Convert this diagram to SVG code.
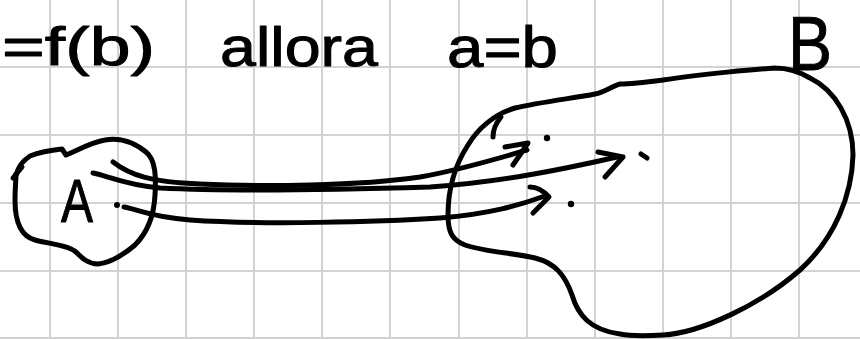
<svg xmlns="http://www.w3.org/2000/svg" width="860" height="339" viewBox="0 0 860 339">
<style>
.grid line{stroke:#d3d3d3;stroke-width:2}
.ink{fill:none;stroke:#000;stroke-width:5;stroke-linecap:round;stroke-linejoin:round}
.dot{fill:#000}
.hw{font-family:"Liberation Sans","DejaVu Sans",sans-serif;fill:#000;stroke:#000;stroke-width:1;stroke-linejoin:round}
</style>
<rect width="860" height="339" fill="#fff"/>
<g class="grid">
<line x1="50" y1="0" x2="50" y2="339"/>
<line x1="118" y1="0" x2="118" y2="339"/>
<line x1="186" y1="0" x2="186" y2="339"/>
<line x1="254" y1="0" x2="254" y2="339"/>
<line x1="322" y1="0" x2="322" y2="339"/>
<line x1="390" y1="0" x2="390" y2="339"/>
<line x1="459" y1="0" x2="459" y2="339"/>
<line x1="527" y1="0" x2="527" y2="339"/>
<line x1="595" y1="0" x2="595" y2="339"/>
<line x1="663" y1="0" x2="663" y2="339"/>
<line x1="731" y1="0" x2="731" y2="339"/>
<line x1="799" y1="0" x2="799" y2="339"/>
<line x1="0" y1="67" x2="860" y2="67"/>
<line x1="0" y1="135" x2="860" y2="135"/>
<line x1="0" y1="203" x2="860" y2="203"/>
<line x1="0" y1="271" x2="860" y2="271"/>
<line x1="0" y1="338" x2="860" y2="338"/>
</g>
<g id="title">
<text class="hw" x="2" y="65" font-size="54" textLength="153" lengthAdjust="spacingAndGlyphs">=f(b)</text>
<text class="hw" x="220" y="66" font-size="56" textLength="158" lengthAdjust="spacingAndGlyphs">allora</text>
<text class="hw" x="447" y="67" font-size="58" textLength="111" lengthAdjust="spacingAndGlyphs">a=b</text>
</g>
<g id="setA">
<path class="ink" d="M16 176 C18 165 24 160 30 156 C40 152 52 150 62 149 L66 155 C78 150 92 142 105 140 C120 137 135 143 146 152 C156 160 156 178 155 195 C154 215 148 232 135 245 C122 256 108 263 98 264 C88 264 82 258 76 252 C68 245 50 244 35 240 C20 236 15 220 15 200 C15 188 16 180 16 174"/>
<path class="ink" d="M13 178 L22 167"/>
<text class="hw" x="61" y="222" font-size="62" textLength="32" lengthAdjust="spacingAndGlyphs" stroke-width="2">A</text>
<circle class="dot" cx="117" cy="205" r="3"/>
</g>
<g id="setB">
<path class="ink" d="M775 68 C760 69 700 74 663 80 C640 83 625 84 620 84 C612 86 605 92 595 94 C575 98 540 102 515 108 C495 114 478 128 468 145 C455 165 448 190 448 215 C448 232 452 240 465 245 C485 252 515 253 535 258 C555 263 565 275 572 295 C578 315 590 330 620 334 C630 336 645 336 663 335 C700 333 760 305 800 270 C835 238 852 195 853 155 C853 120 835 90 810 78 C800 72 790 68 775 68"/>
<path class="ink" d="M493 137 C493 130 496 123 501 117"/>
<text class="hw" x="788" y="70" font-size="76" textLength="44" lengthAdjust="spacingAndGlyphs" stroke-width="2">B</text>
<circle class="dot" cx="547" cy="138" r="3.2"/>
<circle class="dot" cx="571" cy="204" r="3.2"/>
<path class="ink" d="M641 154 L647 158"/>
</g>
<g id="connectors">
<path class="ink" d="M113 162 C130 175 150 182 200 184 C260 187 360 186 420 177 C460 170 500 158 527 150"/>
<path class="ink" d="M505 147 L528 143 L513 165"/>
<path class="ink" d="M93 173 C105 175 125 185 160 188 C220 191 330 190 430 187 C500 182 560 170 617 157"/>
<path class="ink" d="M598 152 L623 157 L605 177"/>
<path class="ink" d="M124 207 C140 210 150 217 190 220 C260 225 380 222 440 218 C490 214 520 205 545 196"/>
<path class="ink" d="M530 187 Q540 187 549 197 L533 213"/>
</g>
</svg>
